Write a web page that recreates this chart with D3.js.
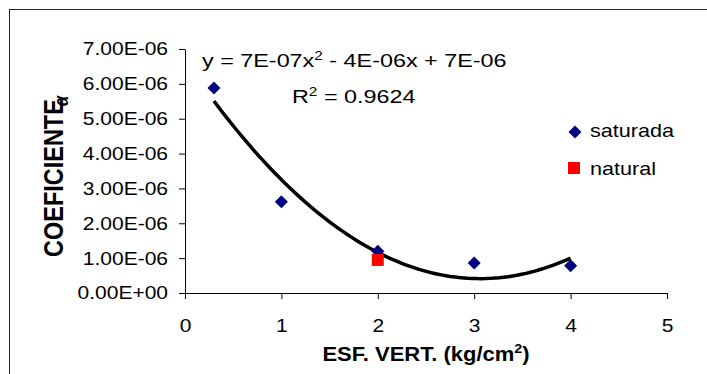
<!DOCTYPE html>
<html>
<head>
<meta charset="utf-8">
<script src="https://cdn.jsdelivr.net/npm/d3@7"></script>
<style>
  html, body { margin: 0; padding: 0; background: #fff; }
  svg { display: block; font-family: Arial, "Liberation Sans", sans-serif; }
</style>
</head>
<body>
<svg id="chart" width="707" height="374"></svg>
<script>
// Coefficient vs vertical stress
const saturadaX = [0.3, 1, 2, 3, 4];
const saturadaY = [5.88e-6, 2.62e-6, 1.2e-6, 0.86e-6, 0.78e-6];
const naturalX = [2];
const naturalY = [0.95e-6];
const xTicks = [0, 1, 2, 3, 4, 5];
const yTicks = [0, 1e-6, 2e-6, 3e-6, 4e-6, 5e-6, 6e-6, 7e-6];
const equationLabel = "y = 7E-07x";
const equationRest = " - 4E-06x + 7E-06";
const r2Value = "0.9624";

const svg = d3.select("#chart");
const SX = 1.2; // horizontal stretch of the text

// outer frame
svg.append("rect")
  .attr("x", 9.5).attr("y", 9.5)
  .attr("width", 760).attr("height", 400)
  .attr("fill", "none").attr("stroke", "#222").attr("stroke-width", 1);

const x = d3.scaleLinear().domain([0, 5]).range([185, 667]);
const y = d3.scaleLinear().domain([0, 7e-6]).range([293, 49]);

function sci(v) {
  if (v === 0) return "0.00E+00";
  const [m, e] = v.toExponential(2).toUpperCase().split("E");
  const n = parseInt(e, 10);
  return m + "E" + (n < 0 ? "-" : "+") + String(Math.abs(n)).padStart(2, "0");
}

// y axis
const yAxis = svg.append("g")
  .attr("transform", `translate(${x(0)},0)`)
  .call(d3.axisLeft(y).tickValues(yTicks).tickFormat(sci).tickSize(6).tickSizeOuter(0));
yAxis.select(".domain").attr("stroke", "#000");
yAxis.selectAll(".tick line").attr("stroke", "#000");
yAxis.selectAll(".tick text")
  .attr("font-size", 17.5).attr("fill", "#000")
  .attr("font-family", "Arial, 'Liberation Sans', sans-serif")
  .attr("x", -17 / SX).attr("dy", "0.34em")
  .attr("transform", `scale(${SX},1)`);

// x axis
const xAxis = svg.append("g")
  .attr("transform", `translate(0,${y(0)})`)
  .call(d3.axisBottom(x).tickValues(xTicks).tickFormat(d3.format("d")).tickSize(6).tickSizeOuter(0));
xAxis.select(".domain").attr("stroke", "#000");
xAxis.selectAll(".tick line").attr("stroke", "#000");
xAxis.selectAll(".tick text")
  .attr("font-size", 17.5).attr("fill", "#000")
  .attr("font-family", "Arial, 'Liberation Sans', sans-serif")
  .attr("y", 39).attr("dy", 0)
  .attr("transform", `scale(${SX},1)`);

// quadratic least-squares trendline through the saturada points
function quadFit(xs, ys) {
  let s = [0, 0, 0, 0, 0], t = [0, 0, 0];
  xs.forEach((xi, i) => {
    for (let k = 0; k < 5; k++) s[k] += Math.pow(xi, k);
    for (let k = 0; k < 3; k++) t[k] += ys[i] * Math.pow(xi, k);
  });
  const A = [[s[0], s[1], s[2], t[0]], [s[1], s[2], s[3], t[1]], [s[2], s[3], s[4], t[2]]];
  for (let i = 0; i < 3; i++) {
    for (let j = i + 1; j < 3; j++) {
      const f = A[j][i] / A[i][i];
      for (let k = i; k < 4; k++) A[j][k] -= f * A[i][k];
    }
  }
  const c = [0, 0, 0];
  for (let i = 2; i >= 0; i--) {
    let v = A[i][3];
    for (let k = i + 1; k < 3; k++) v -= A[i][k] * c[k];
    c[i] = v / A[i][i];
  }
  return c;
}
const coef = quadFit(saturadaX, saturadaY);
const x0 = d3.min(saturadaX), x1 = d3.max(saturadaX);
const trend = d3.range(0, 81).map(i => {
  const xv = x0 + (x1 - x0) * i / 80;
  return [xv, coef[0] + coef[1] * xv + coef[2] * xv * xv];
});
svg.append("path")
  .datum(trend)
  .attr("fill", "none").attr("stroke", "#000").attr("stroke-width", 3.5)
  .attr("stroke-linejoin", "round")
  .attr("d", d3.line().x(d => x(d[0])).y(d => y(d[1])));

// markers
const diamond = "M0,-6.5L6.5,0L0,6.5L-6.5,0Z";
svg.append("g").selectAll("path")
  .data(saturadaX.map((v, i) => [v, saturadaY[i]]))
  .join("path")
  .attr("d", diamond)
  .attr("fill", "#000080")
  .attr("transform", d => `translate(${x(d[0])},${y(d[1])})`);

svg.append("g").selectAll("rect")
  .data(naturalX.map((v, i) => [v, naturalY[i]]))
  .join("rect")
  .attr("x", d => x(d[0]) - 6).attr("y", d => y(d[1]) - 6)
  .attr("width", 12).attr("height", 12)
  .attr("fill", "#ff0000");

// helper for horizontally stretched text
function label(px, py, opts = {}) {
  const g = svg.append("g").attr("transform", `translate(${px},${py}) scale(${opts.sx || SX},1)`);
  return g.append("text")
    .attr("font-size", opts.size || 17.5)
    .attr("font-weight", opts.weight || "normal")
    .attr("text-anchor", opts.anchor || "start")
    .attr("fill", "#000");
}

// trendline equation
const eq = label(202, 67, { size: 19, sx: 1.23 });
eq.append("tspan").text(equationLabel);
eq.append("tspan").attr("font-size", 12.5).attr("dy", -7).text("2");
eq.append("tspan").attr("dy", 7).text(equationRest);

const r2 = label(292, 103, { size: 19, sx: 1.23 });
r2.append("tspan").text("R");
r2.append("tspan").attr("font-size", 12.5).attr("dy", -7).text("2");
r2.append("tspan").attr("dy", 7).text(" = " + r2Value);

// legend
svg.append("path").attr("d", diamond).attr("fill", "#000080")
  .attr("transform", "translate(575,132)");
label(590, 137, { size: 18 }).text("saturada");
svg.append("rect").attr("x", 568).attr("y", 162).attr("width", 12).attr("height", 12)
  .attr("fill", "#ff0000");
label(590, 175, { size: 18 }).text("natural");

// axis titles
const xt = label(426, 361, { size: 20, weight: "bold", anchor: "middle", sx: 1.1 });
xt.append("tspan").text("ESF. VERT. (kg/cm");
xt.append("tspan").attr("font-size", 13).attr("dy", -8).text("2");
xt.append("tspan").attr("dy", 8).text(")");

const yt = svg.append("g")
  .attr("transform", `translate(63,257) scale(${SX},1) rotate(-90)`)
  .append("text")
  .attr("font-size", 23.5).attr("font-weight", "bold").attr("fill", "#000")
  .attr("text-anchor", "start");
yt.append("tspan").text("COEFICIENTE");
yt.append("tspan").attr("font-size", 17).attr("font-style", "italic")
  .attr("dx", -7).attr("dy", 4).text("α");
</script>
</body>
</html>
